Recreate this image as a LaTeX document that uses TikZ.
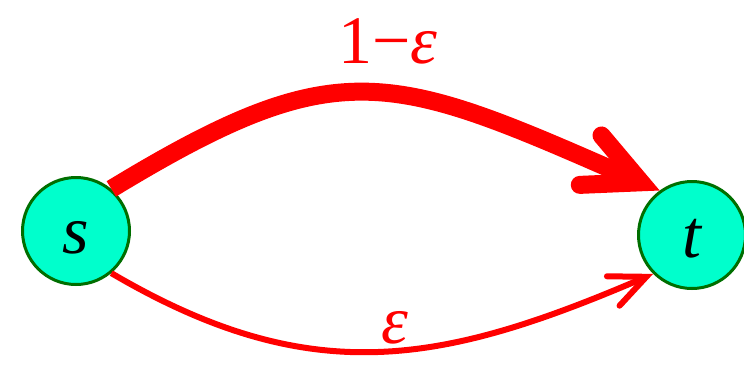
\documentclass[tikz,border=0pt]{standalone}
\usepackage{fontspec}
\setmainfont{Liberation Serif}
\usetikzlibrary{arrows.meta}
\definecolor{nodefill}{RGB}{0,255,204}
\definecolor{nodeborder}{RGB}{0,110,0}
\begin{document}
\begin{tikzpicture}[x=1pt,y=-1pt,
  vertex/.style={circle,draw=nodeborder,line width=3pt,fill=nodefill,
    minimum size=107pt,inner sep=0pt,text height=44pt,text depth=0pt,
    font=\fontsize{68}{72}\selectfont\itshape},
  bigflow/.style={draw=red,line width=18pt,
    -{Straight Barb[length=55pt,width=54pt,line cap=round]}},
  smallflow/.style={draw=red,line width=6pt,
    -{Straight Barb[length=36pt,width=32pt,line cap=round]}},
  lab/.style={text=red,anchor=base,font=\fontsize{68}{72}\selectfont}]
\useasboundingbox (0,0) rectangle (744,365);
\node[vertex] (s) at (76,231) {s};
\node[vertex] (t) at (692,235) {t};
\draw[bigflow] (s.50) .. controls (340,50) and (390,72) .. (t.126);
\draw[smallflow] (s.-50) .. controls (312,391) and (443,364) .. (t.225);
\node[lab] (top) at (388,63) {1−\textit{ε}};
\node[lab] (bot) at (395,343) {\textit{ε}};
\end{tikzpicture}
\end{document}
